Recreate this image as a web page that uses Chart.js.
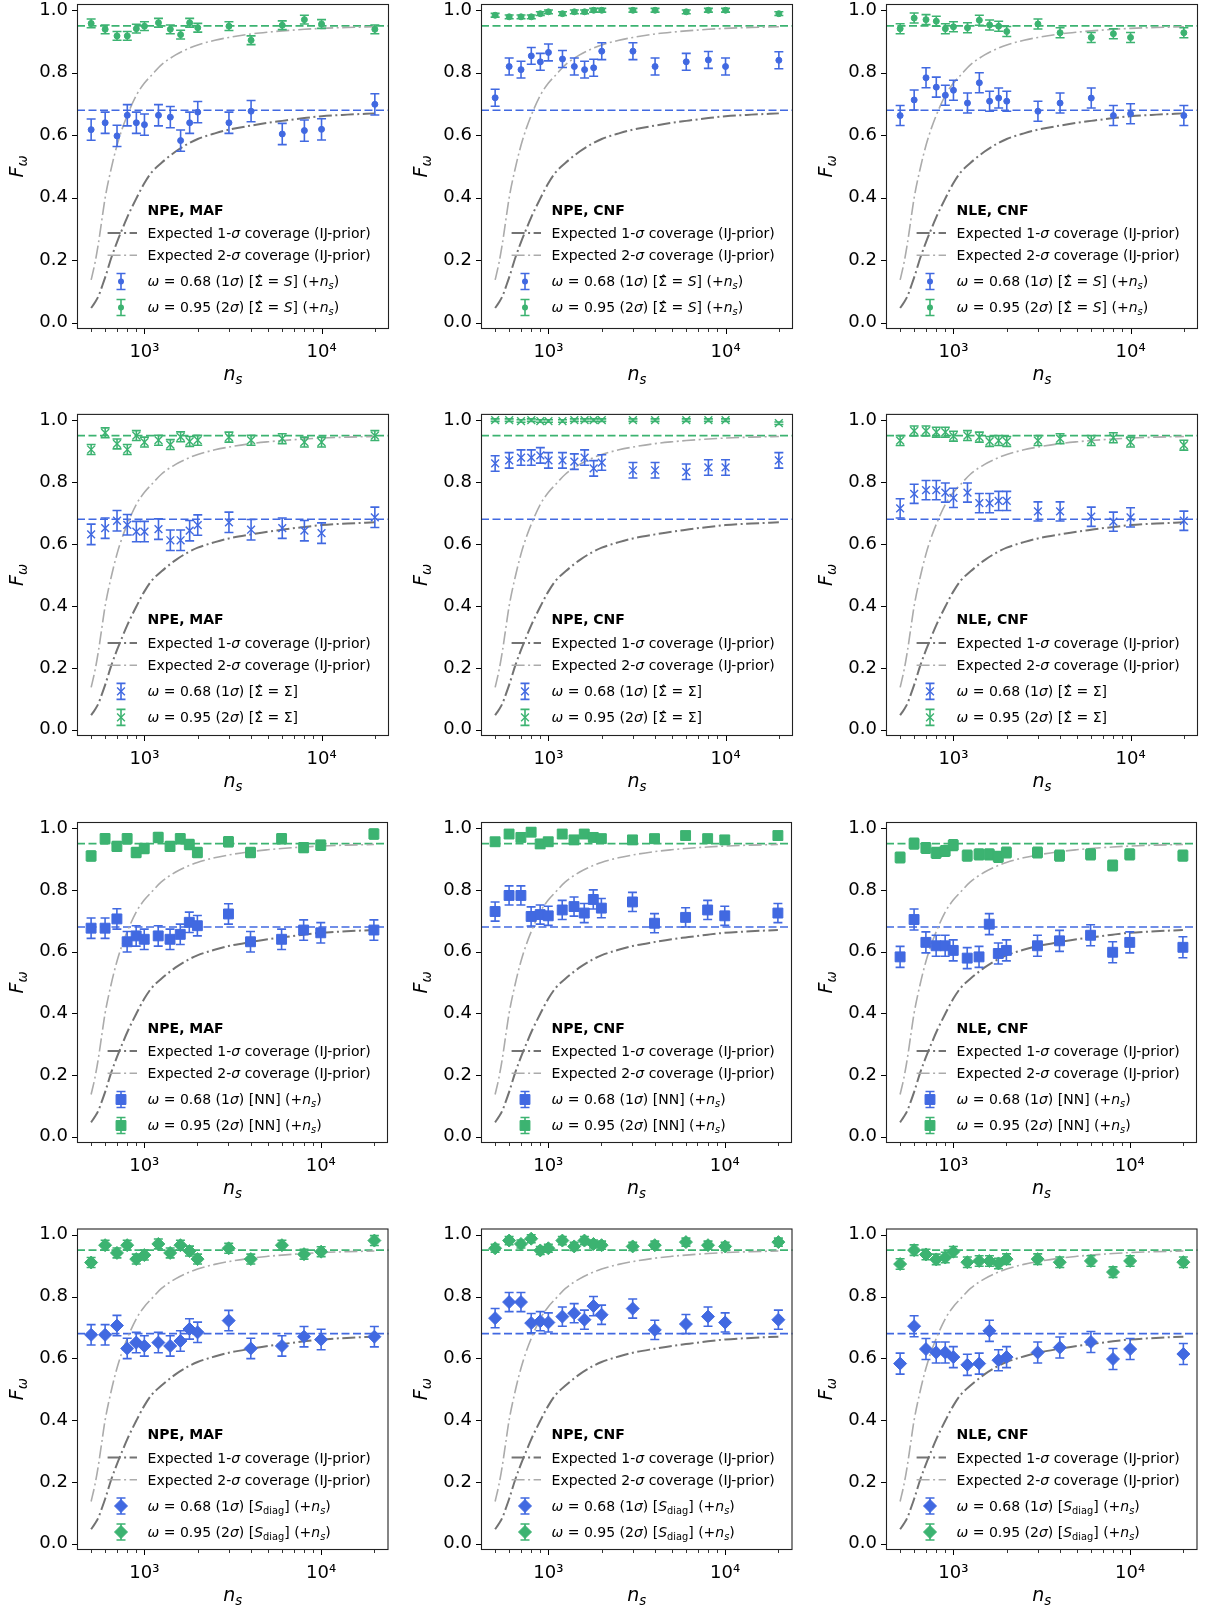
<!DOCTYPE html>
<html>
<head>
<meta charset="utf-8">
<title>Coverage vs number of simulations</title>
<script src="https://cdn.jsdelivr.net/npm/chart.js@4.4.0/dist/chart.umd.min.js"></script>
<style>
  html, body { margin: 0; padding: 0; background: #fff; overflow: hidden; }
  #grid { position: relative; width: 1205px; height: 1608px; }
  #grid canvas { position: absolute; }
</style>
</head>
<body>
<div id="grid"></div>
<script>
// x positions of all measured points (number of simulations)
const nsValues = [500, 600, 700, 800, 900, 1000, 1200, 1400, 1600, 1800, 2000, 3000, 4000, 6000, 8000, 10000, 20000];

// expected coverage curves (IJ-prior)
const curveNs = [500, 525, 550, 575, 600, 650, 700, 750, 800, 900, 1000, 1100, 1250, 1500, 1750, 2000, 2500, 3000, 4000, 5000, 6000, 8000, 10000, 14000, 20000];
const expected1Sigma = [0.047, 0.065, 0.085, 0.115, 0.145, 0.208, 0.258, 0.300, 0.338, 0.398, 0.447, 0.482, 0.512, 0.548, 0.572, 0.588, 0.606, 0.618, 0.631, 0.640, 0.646, 0.655, 0.661, 0.666, 0.670];
const expected2Sigma = [0.137, 0.19, 0.255, 0.33, 0.40, 0.495, 0.568, 0.622, 0.664, 0.728, 0.767, 0.793, 0.826, 0.857, 0.876, 0.889, 0.904, 0.913, 0.924, 0.930, 0.934, 0.939, 0.942, 0.945, 0.947];

// row 1: Sigma-hat = S
const mafS68 = [0.618, 0.640, 0.598, 0.664, 0.640, 0.634, 0.664, 0.658, 0.583, 0.640, 0.674, 0.640, 0.677, 0.604, 0.615, 0.619, 0.699];
const mafS95 = [0.958, 0.939, 0.918, 0.918, 0.941, 0.949, 0.960, 0.939, 0.922, 0.960, 0.944, 0.949, 0.904, 0.952, 0.970, 0.956, 0.939];
const cnfS68 = [0.720, 0.820, 0.810, 0.854, 0.835, 0.865, 0.844, 0.820, 0.810, 0.816, 0.869, 0.869, 0.820, 0.835, 0.841, 0.820, 0.840];
const cnfS95 = [0.984, 0.979, 0.979, 0.979, 0.989, 0.995, 0.989, 0.995, 0.995, 1.0, 1.0, 1.0, 1.0, 0.995, 1.0, 1.0, 0.989];
const nleS68 = [0.663, 0.713, 0.784, 0.754, 0.728, 0.744, 0.703, 0.768, 0.709, 0.719, 0.709, 0.677, 0.703, 0.719, 0.663, 0.669, 0.663];
const nleS95 = [0.941, 0.975, 0.970, 0.965, 0.941, 0.947, 0.944, 0.968, 0.953, 0.949, 0.932, 0.956, 0.928, 0.913, 0.925, 0.913, 0.928];

// row 2: Sigma-hat = Sigma
const mafSig68 = [0.631, 0.651, 0.675, 0.662, 0.640, 0.640, 0.648, 0.612, 0.612, 0.643, 0.661, 0.670, 0.646, 0.651, 0.643, 0.635, 0.686];
const mafSig95 = [0.905, 0.959, 0.923, 0.905, 0.950, 0.929, 0.935, 0.921, 0.946, 0.931, 0.935, 0.945, 0.935, 0.940, 0.929, 0.929, 0.950];
const cnfSig68 = [0.860, 0.870, 0.879, 0.879, 0.886, 0.870, 0.870, 0.866, 0.879, 0.844, 0.863, 0.838, 0.838, 0.833, 0.847, 0.847, 0.870];
const cnfSig95 = [1.0, 1.0, 0.997, 1.0, 0.997, 0.997, 0.997, 1.0, 1.0, 1.0, 1.0, 1.0, 1.0, 1.0, 1.0, 1.0, 0.990];
const nleSig68 = [0.715, 0.762, 0.774, 0.774, 0.766, 0.749, 0.766, 0.732, 0.732, 0.739, 0.739, 0.705, 0.705, 0.688, 0.672, 0.686, 0.675];
const nleSig95 = [0.934, 0.965, 0.965, 0.961, 0.961, 0.948, 0.950, 0.945, 0.931, 0.934, 0.931, 0.934, 0.940, 0.934, 0.943, 0.929, 0.919];

// rows 3 and 4: NN and S_diag (same values in the figure)
const mafNN68 = [0.676, 0.676, 0.706, 0.632, 0.651, 0.640, 0.651, 0.640, 0.656, 0.695, 0.684, 0.722, 0.632, 0.640, 0.670, 0.661, 0.670];
const mafNN95 = [0.910, 0.966, 0.941, 0.966, 0.921, 0.934, 0.970, 0.941, 0.966, 0.947, 0.921, 0.956, 0.921, 0.966, 0.937, 0.945, 0.981];
const cnfNN68 = [0.730, 0.782, 0.782, 0.714, 0.720, 0.716, 0.735, 0.746, 0.725, 0.769, 0.741, 0.761, 0.692, 0.711, 0.735, 0.716, 0.725];
const cnfNN95 = [0.956, 0.981, 0.970, 0.987, 0.949, 0.956, 0.981, 0.962, 0.981, 0.970, 0.966, 0.962, 0.966, 0.976, 0.966, 0.962, 0.976];
const nleNN68 = [0.583, 0.704, 0.630, 0.619, 0.619, 0.604, 0.579, 0.583, 0.689, 0.594, 0.604, 0.619, 0.635, 0.653, 0.598, 0.630, 0.614];
const nleNN95 = [0.905, 0.950, 0.936, 0.920, 0.926, 0.945, 0.911, 0.915, 0.915, 0.907, 0.921, 0.921, 0.911, 0.915, 0.879, 0.915, 0.911];

// half-height of the error bars, per row and column
const err68 = [[0.034, 0.027, 0.032], [0.033, 0.025, 0.031], [0.033, 0.031, 0.034], [0.033, 0.031, 0.034]];
const err95 = [[0.014, 0.006, 0.016], [0.016, 0.004, 0.016], [0.016, 0.013, 0.017], [0.016, 0.013, 0.017]];

const yTicks = [0, 0.2, 0.4, 0.6, 0.8, 1.0];
const xMajor = [1000, 10000];
const xMinor = [500, 600, 700, 800, 900, 2000, 3000, 4000, 5000, 6000, 7000, 8000, 9000, 20000];
const titles = ['NPE, MAF', 'NPE, CNF', 'NLE, CNF'];

const BLUE = '#4169e1';
const GREEN = '#3cb371';
const DARK = '#737373';
const LIGHT = '#ababab';
const FAM = '"DejaVu Sans"';
const DASHDOT = [13, 3.5, 2, 3.5];

const rowData = [
  [[mafS68, mafS95], [cnfS68, cnfS95], [nleS68, nleS95]],
  [[mafSig68, mafSig95], [cnfSig68, cnfSig95], [nleSig68, nleSig95]],
  [[mafNN68, mafNN95], [cnfNN68, cnfNN95], [nleNN68, nleNN95]],
  [[mafNN68, mafNN95], [cnfNN68, cnfNN95], [nleNN68, nleNN95]]
];

// marker per row: style, radius, border width
const rowMarker = [
  { style: 'circle', r: 3, bw: 1 },
  { style: 'crossRot', r: 5.5, bw: 1.4 },
  { style: 'rect', r: 7, bw: 1 },
  { style: 'rectRot', r: 6.5, bw: 1 }
];

// legend label tags per row ([text, style] segments)
const hatSigma = '\u03A3\u0302';
const rowTag = [
  [[' [', 'r'], [hatSigma, 'r'], [' = ', 'r'], ['S', 'i'], ['] (+', 'r'], ['n', 'i'], ['s', 'si'], [')', 'r']],
  [[' [', 'r'], [hatSigma, 'r'], [' = \u03A3]', 'r']],
  [[' [NN] (+', 'r'], ['n', 'i'], ['s', 'si'], [')', 'r']],
  [[' [', 'r'], ['S', 'i'], ['diag', 'sr'], ['] (+', 'r'], ['n', 'i'], ['s', 'si'], [')', 'r']]
];

function segFont(style, size) {
  const sub = style[0] === 's';
  const it = style === 'i' || style === 'si';
  return (it ? 'italic ' : '') + (style === 'b' ? 'bold ' : '') + (sub ? size * 0.7 : size) + 'px ' + FAM;
}

// draw mixed text (italic / subscript) from a baseline
function drawRich(ctx, segs, x, y, size, align) {
  let w = 0;
  segs.forEach(([t, st]) => { ctx.font = segFont(st, size); w += ctx.measureText(t).width; });
  let cx = align === 'center' ? x - w / 2 : x;
  ctx.textAlign = 'left';
  ctx.textBaseline = 'alphabetic';
  segs.forEach(([t, st]) => {
    ctx.font = segFont(st, size);
    ctx.fillText(t, cx, y + (st[0] === 's' ? size * 0.22 : 0));
    cx += ctx.measureText(t).width;
  });
}

function drawMarker(ctx, m, x, y, color) {
  ctx.fillStyle = color;
  ctx.strokeStyle = color;
  ctx.lineWidth = m.bw;
  ctx.setLineDash([]);
  ctx.beginPath();
  if (m.style === 'circle') {
    ctx.arc(x, y, m.r, 0, Math.PI * 2);
    ctx.fill();
  } else if (m.style === 'crossRot') {
    const d = m.r * Math.SQRT1_2;
    ctx.moveTo(x - d, y - d); ctx.lineTo(x + d, y + d);
    ctx.moveTo(x + d, y - d); ctx.lineTo(x - d, y + d);
    ctx.stroke();
  } else if (m.style === 'rect') {
    const h = m.r * Math.SQRT1_2;
    ctx.rect(x - h, y - h, 2 * h, 2 * h);
    ctx.fill(); ctx.stroke();
  } else {
    ctx.moveTo(x - m.r, y); ctx.lineTo(x, y - m.r); ctx.lineTo(x + m.r, y); ctx.lineTo(x, y + m.r);
    ctx.closePath();
    ctx.fill(); ctx.stroke();
  }
}

function errBar(ctx, x, y1, y2, color) {
  ctx.strokeStyle = color;
  ctx.lineWidth = 1.6;
  ctx.setLineDash([]);
  ctx.beginPath();
  ctx.moveTo(x, y1); ctx.lineTo(x, y2);
  ctx.moveTo(x - 4.5, y1); ctx.lineTo(x + 4.5, y1);
  ctx.moveTo(x - 4.5, y2); ctx.lineTo(x + 4.5, y2);
  ctx.stroke();
}

// no extra room for tick labels: keep the plot box where the figure has it
function noPad(s) {
  s.paddingTop = 0; s.paddingBottom = 0; s.paddingLeft = 0; s.paddingRight = 0;
}

const panelPlugin = {
  id: 'panel',
  beforeDatasetsDraw(chart) {
    const { ctx, chartArea: a, scales: { y } } = chart;
    ctx.save();
    ctx.lineWidth = 1.6;
    ctx.setLineDash([8, 3.5]);
    [[0.68, BLUE], [0.95, GREEN]].forEach(([v, c]) => {
      const py = y.getPixelForValue(v);
      ctx.strokeStyle = c;
      ctx.beginPath(); ctx.moveTo(a.left, py); ctx.lineTo(a.right, py); ctx.stroke();
    });
    ctx.restore();
  },
  beforeDatasetDraw(chart, args) {
    const ds = chart.data.datasets[args.index];
    if (ds.err === undefined) return;
    const { ctx, scales: { y } } = chart;
    ctx.save();
    args.meta.data.forEach((pt, j) => {
      const v = ds.data[j].y;
      errBar(ctx, pt.x, y.getPixelForValue(v + ds.err), y.getPixelForValue(v - ds.err), ds.borderColor);
    });
    ctx.restore();
  },
  afterDraw(chart) {
    const { ctx, chartArea: a, scales: { x, y } } = chart;
    const info = chart.canvas.panel;
    ctx.save();
    ctx.setLineDash([]);
    ctx.strokeStyle = '#000';
    // tick marks
    ctx.beginPath();
    ctx.lineWidth = 1;
    xMajor.forEach(v => { const px = Math.round(x.getPixelForValue(v)) + 0.5; ctx.moveTo(px, a.bottom); ctx.lineTo(px, a.bottom + 5); });
    yTicks.forEach(v => { const py = Math.round(y.getPixelForValue(v)) + 0.5; ctx.moveTo(a.left, py); ctx.lineTo(a.left - 5, py); });
    ctx.stroke();
    ctx.beginPath();
    ctx.lineWidth = 0.8;
    xMinor.forEach(v => { const px = Math.round(x.getPixelForValue(v)) + 0.5; ctx.moveTo(px, a.bottom); ctx.lineTo(px, a.bottom + 3); });
    ctx.stroke();
    // frame
    ctx.lineWidth = 1.1;
    ctx.strokeStyle = '#222';
    ctx.strokeRect(a.left + 0.5, a.top + 0.5, a.width - 1, a.height - 1);
    // axis labels
    ctx.fillStyle = '#000';
    drawRich(ctx, [['n', 'i'], ['s', 'si']], (a.left + a.right) / 2, a.bottom + 51, 19, 'center');
    ctx.save();
    ctx.translate(23, (a.top + a.bottom) / 2);
    ctx.rotate(-Math.PI / 2);
    drawRich(ctx, [['F', 'i'], ['\u03C9', 'si']], 0, 0, 19, 'center');
    ctx.restore();
    // legend
    const L = a.left, T = a.top, tx = L + 70.6;
    drawRich(ctx, [[info.title, 'b']], tx, T + 210.5, 14);
    [[DARK, 2, 229, '1'], [LIGHT, 1.6, 251.3, '2']].forEach(([c, lw, dy, k]) => {
      ctx.strokeStyle = c;
      ctx.lineWidth = lw;
      ctx.setLineDash(DASHDOT);
      ctx.beginPath(); ctx.moveTo(L + 30.6, T + dy); ctx.lineTo(L + 60, T + dy); ctx.stroke();
      ctx.fillStyle = '#000';
      drawRich(ctx, [['Expected ' + k + '-', 'r'], ['\u03C3', 'i'], [' coverage (IJ-prior)', 'r']], tx, T + dy + 5, 14);
    });
    [[BLUE, 277.5, '0.68', '1'], [GREEN, 303.5, '0.95', '2']].forEach(([c, dy, w, k]) => {
      errBar(ctx, L + 44, T + dy - 8, T + dy + 8, c);
      drawMarker(ctx, info.marker, L + 44, T + dy, c);
      ctx.fillStyle = '#000';
      const segs = [['\u03C9', 'i'], [' = ' + w + ' (' + k, 'r'], ['\u03C3', 'i'], [')', 'r']].concat(info.tag);
      drawRich(ctx, segs, tx, T + dy + 4.5, 14);
    });
    ctx.restore();
  }
};

const grid = document.getElementById('grid');
const colLeft = [0, 404, 809];
const rowTop = [0, 407, 814, 1221];

rowData.forEach((row, r) => {
  row.forEach(([v68, v95], c) => {
    const canvas = document.createElement('canvas');
    canvas.width = 396;
    canvas.height = 387;
    canvas.style.left = colLeft[c] + 'px';
    canvas.style.top = rowTop[r] + 'px';
    grid.appendChild(canvas);
    const m = rowMarker[r];
    canvas.panel = { title: titles[c], marker: m, tag: rowTag[r] };

    const pointSet = (vals, err, color) => ({
      data: nsValues.map((n, i) => ({ x: n, y: vals[i] })),
      err: err,
      borderColor: color,
      backgroundColor: color,
      pointStyle: m.style,
      pointRadius: m.r,
      pointHoverRadius: m.r,
      pointBorderWidth: m.bw,
      order: 1
    });
    const curveSet = (vals, color, lw) => ({
      type: 'line',
      data: curveNs.map((n, i) => ({ x: n, y: vals[i] })),
      borderColor: color,
      borderWidth: lw,
      borderDash: DASHDOT,
      pointRadius: 0,
      fill: false,
      cubicInterpolationMode: 'monotone',
      order: 3
    });

    new Chart(canvas, {
      type: 'scatter',
      data: {
        datasets: [
          curveSet(expected1Sigma, DARK, 2),
          curveSet(expected2Sigma, LIGHT, 1.6),
          pointSet(v68, err68[r][c], BLUE),
          pointSet(v95, err95[r][c], GREEN)
        ]
      },
      options: {
        responsive: false,
        animation: false,
        events: [],
        layout: { padding: { left: 1, top: 1, right: 7, bottom: 0 } },
        plugins: { legend: { display: false }, tooltip: { enabled: false } },
        scales: {
          x: {
            type: 'logarithmic',
            min: 416,
            max: 24040,
            afterBuildTicks: s => { s.ticks = xMajor.map(v => ({ value: v })); },
            afterFit: s => { s.height = 58; noPad(s); },
            grid: { display: false, drawTicks: false },
            border: { display: false },
            ticks: {
              autoSkip: false, maxRotation: 0, minRotation: 0, padding: 13,
              color: '#000', font: { family: 'DejaVu Sans', size: 18 },
              callback: v => v === 1000 ? '10\u00B3' : '10\u2074'
            }
          },
          y: {
            min: -0.02,
            max: 1.02,
            afterBuildTicks: s => { s.ticks = yTicks.map(v => ({ value: v })); },
            afterFit: s => { s.width = 76; noPad(s); },
            grid: { display: false, drawTicks: false },
            border: { display: false },
            ticks: {
              autoSkip: false, padding: 9,
              color: '#000', font: { family: 'DejaVu Sans', size: 18 },
              callback: v => v.toFixed(1)
            }
          }
        }
      },
      plugins: [panelPlugin]
    });
  });
});
</script>
</body>
</html>
